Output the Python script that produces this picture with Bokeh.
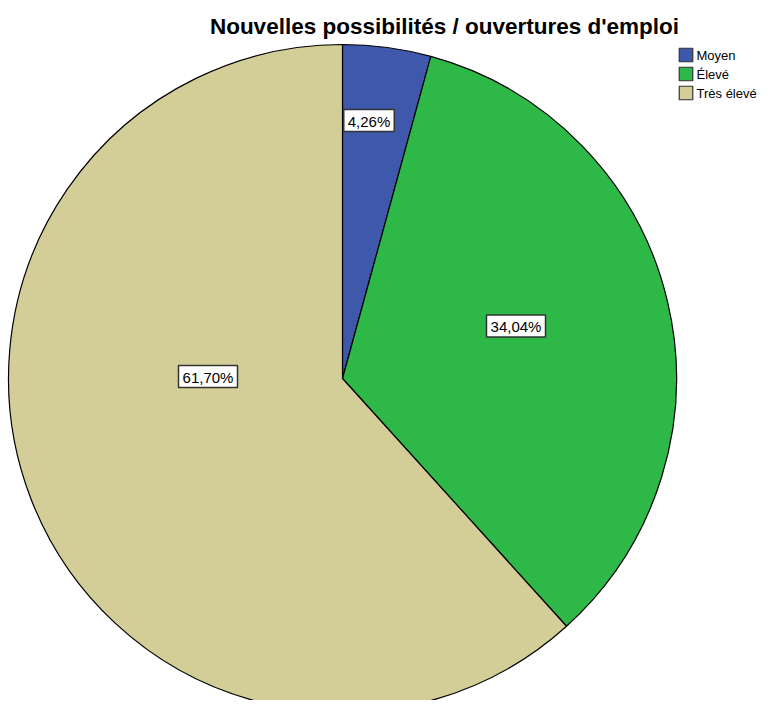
from bokeh.plotting import figure
from bokeh.models import Range1d, ColumnDataSource
from bokeh.core.properties import value
from bokeh.embed import file_html
from bokeh.resources import INLINE
import math

# ---- data ----
categories = ["Moyen", "Élevé", "Très élevé"]
percents = [4.26, 34.04, 61.70]
colors = ["#3E58AC", "#2EB848", "#D3CE97"]
labels = ["4,26%", "34,04%", "61,70%"]
title = "Nouvelles possibilités / ouvertures d'emploi"

# ---- layout (pixel-like data coords; y = -screen_y) ----
W, H = 770, 700
cx, cy, R = 342, -378, 334
label_pos = [(368.5, -120), (515.5, -325.5), (207.5, -376)]

p = figure(width=W, height=H, output_backend="svg", toolbar_location=None,
           x_range=Range1d(0, W), y_range=Range1d(-H, 0),
           min_border=0, outline_line_color=None)
p.axis.visible = False
p.grid.visible = False
p.background_fill_color = "white"
p.border_fill_color = "white"

total = sum(percents)
starts, ends = [], []
a = math.pi / 2
for v in percents:
    starts.append(a)
    a = a - v / total * 2 * math.pi
    ends.append(a)

src = ColumnDataSource(dict(cat=categories, start=starts, end=ends, color=colors))
p.wedge(x=cx, y=cy, radius=R, start_angle="start", end_angle="end",
        direction="clock", fill_color="color", line_color="black",
        line_width=1.2, source=src)

font = value("Liberation Sans")

# value labels with boxes
for (lx, ly), t in zip(label_pos, labels):
    w = 8.5 * len(t) + 8
    p.rect(x=lx, y=ly, width=w, height=22, fill_color="white",
           line_color="#333333", line_width=1.5)
    p.text(x=[lx], y=[ly - 0.5], text=[t], text_font=font, text_font_size="15px",
           text_align="center", text_baseline="middle", text_color="black")

# title
p.text(x=[444], y=[-25.5], text=[title], text_font=font, text_font_size="22.5px",
       text_font_style="bold", text_align="center", text_baseline="middle",
       text_color="black")

# legend
ly0 = -54.5
for i, (c, cat) in enumerate(zip(colors, categories)):
    yy = ly0 - i * 19
    p.rect(x=685.5, y=yy, width=13.5, height=13.5, fill_color=c, line_color="#333333", line_width=1.2)
    p.text(x=[696], y=[yy - 0.5], text=[cat], text_font=font, text_font_size="13px",
           text_align="left", text_baseline="middle", text_color="black")

open("out.html", "w").write(file_html(p, INLINE))
